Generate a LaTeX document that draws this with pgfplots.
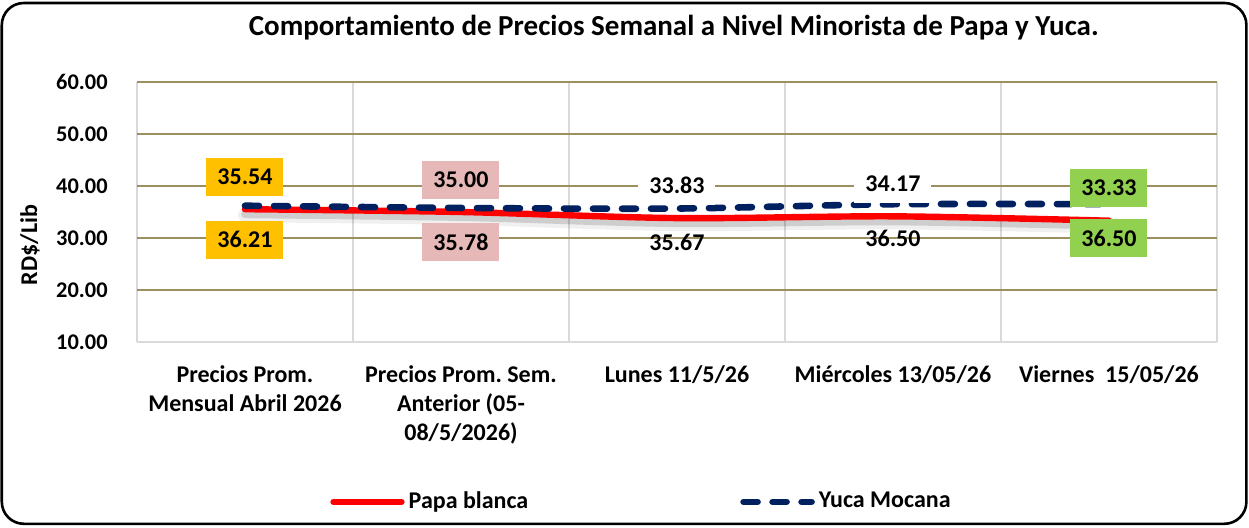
\documentclass[border=0pt]{standalone}
\usepackage{pgfplots}
\usepackage{pgfplotstable}
\pgfplotsset{compat=1.18}
\usepackage{fontspec}
\setmainfont{Carlito}
\definecolor{gold}{HTML}{FFC000}
\definecolor{pinkbox}{HTML}{E6B9B8}
\definecolor{greenbox}{HTML}{92D050}
\definecolor{navy}{HTML}{002060}
\definecolor{olivegrid}{HTML}{9C9060}
\definecolor{lgray}{HTML}{D9D9D9}
\pgfplotstableread{
x papa yuca
0 35.54 36.21
1 35.00 35.78
2 33.83 35.67
3 34.17 36.50
4 33.33 36.50
}\data
\begin{document}
\frenchspacing
\bfseries\fontsize{12}{14.5}\selectfont
\begin{tikzpicture}
\useasboundingbox (0,0) rectangle (624.5pt,263.5pt);
\draw[line width=1.3pt, rounded corners=11pt] (0.9pt,1.6pt) rectangle (623.2pt,262pt);
\begin{axis}[
  at={(68.5pt,92.5pt)}, anchor=south west,
  scale only axis, width=540pt, height=130pt,
  xmin=-0.5, xmax=4.5, ymin=10, ymax=60,
  clip=false,
  /pgf/number format/assume math mode=true,
  xtick={0,1,2,3,4},
  xticklabels={{Precios Prom.\\Mensual Abril 2026},{Precios Prom. Sem.\\Anterior (05-\\08/5/2026)},{Lunes 11/5/26},{Miércoles 13/05/26},{Viernes\ \ 15/05/26}},
  xticklabel style={align=center, anchor=north, yshift=-7.5pt},
  minor xtick={-0.5,0.5,1.5,2.5,3.5,4.5},
  xminorgrids, minor x grid style={lgray, line width=0.8pt},
  major tick length=0pt, minor tick length=0pt,
  ytick={10,20,30,40,50,60},
  yticklabels={10.00,20.00,30.00,40.00,50.00,60.00},
  yticklabel style={anchor=east, inner sep=0pt, xshift=-14.5pt, font=\fontsize{11.2}{13}\selectfont},
  ymajorgrids, major y grid style={olivegrid, line width=0.9pt},
  axis x line*=bottom,
  separate axis lines,
  x axis line style={lgray, line width=1pt, -},
  y axis line style={draw=none},
  ylabel={RD\$/Lib},
  ylabel style={at={(rel axis cs:-0.0991,0.373)}, anchor=center},
  title={Comportamiento de Precios Semanal a Nivel Minorista de Papa y Yuca.},
  title style={at={(rel axis cs:0.497,1)}, anchor=center, yshift=21pt, font=\fontsize{14.5}{16}\selectfont\bfseries},
  legend style={at={(rel axis cs:0.468,-0.615)}, anchor=center, draw=none, fill=none,
    legend columns=2, /tikz/every even column/.append style={column sep=104pt}},
  legend image code/.code={\draw[#1] (0pt,0pt) -- (34pt,0pt);},
  nodes near coords={\pgfmathprintnumber[fixed,fixed zerofill,precision=2]{\pgfplotspointmeta}},
]
% shadow
\addplot[black, opacity=0.06, line width=7pt, smooth, forget plot, line cap=round,
  transform canvas={yshift=-3pt}, nodes near coords={}] table[x=x,y=papa] {\data};
\addplot[black, opacity=0.14, line width=4pt, smooth, forget plot, line cap=round,
  transform canvas={yshift=-2.5pt}, nodes near coords={}] table[x=x,y=papa] {\data};
\addplot[red, line width=3.2pt, smooth, line cap=round,
  every node near coord/.style={anchor=center, yshift=16.25pt, minimum width=38.5pt, minimum height=19pt, inner sep=0pt, text=black},
  coordinate style/.condition={x==0}{fill=gold},
  coordinate style/.condition={x==1}{fill=pinkbox},
  coordinate style/.condition={x==2}{fill=white},
  coordinate style/.condition={x==3}{fill=white},
  coordinate style/.condition={x==4}{fill=greenbox},
] table[x=x,y=papa] {\data};
\addlegendentry{Papa blanca}
\addplot[navy, line width=3.3pt, smooth, line cap=round, dash pattern=on 7pt off 7.5pt,
  every node near coord/.style={anchor=center, yshift=-17pt, minimum width=38.5pt, minimum height=19pt, inner sep=0pt, text=black},
  coordinate style/.condition={x==0}{fill=gold},
  coordinate style/.condition={x==1}{fill=pinkbox},
  coordinate style/.condition={x==4}{fill=greenbox},
] table[x=x,y=yuca] {\data};
\addlegendentry{Yuca Mocana}
\end{axis}
\end{tikzpicture}
\end{document}
